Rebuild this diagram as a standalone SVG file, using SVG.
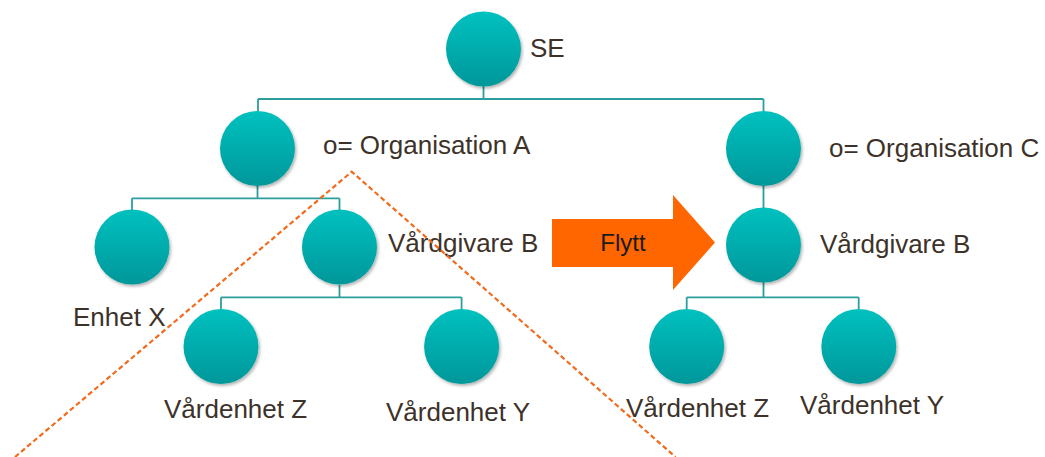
<svg xmlns="http://www.w3.org/2000/svg" width="1045" height="457" viewBox="0 0 1045 457">
<defs>
<linearGradient id="g" x1="0" y1="0" x2="0" y2="1">
<stop offset="0" stop-color="#04C1BF"/>
<stop offset="1" stop-color="#06979A"/>
</linearGradient>
<filter id="sh" x="-20%" y="-20%" width="150%" height="150%">
<feDropShadow dx="1.5" dy="2" stdDeviation="1.6" flood-color="#000" flood-opacity="0.3"/>
</filter>
</defs>
<style>
.n{fill:url(#g);filter:url(#sh)}
.c{fill:none;stroke:#2C9E9E;stroke-width:1.8}
.t{font-family:"Liberation Sans",Arial,sans-serif;font-size:26px;fill:#3D3229}
.d{fill:none;stroke:#F26A1B;stroke-width:2.2;stroke-dasharray:5,3}
</style>
<rect width="1045" height="457" fill="#fff"/>
<g id="connectors">
<path class="c" d="M483.5 86V99M258 99H763.5M258 99V111M763.5 99V111"/>
<path class="c" d="M257.5 186V198.3M132 198.3H339.5M132 198.3V210M339.5 198.3V210"/>
<path class="c" d="M339.5 285V297.3M221 297.3H461.6M221 297.3V309M461.6 297.3V309"/>
<path class="c" d="M763.5 186V208"/>
<path class="c" d="M763.5 282V297.3M686.7 297.3H858.7M686.7 297.3V309M858.7 297.3V309"/>
</g>
<g id="SE"><circle class="n" cx="483.5" cy="49" r="37.5"/><text class="t" x="530" y="57">SE</text></g>
<g id="orgA"><circle class="n" cx="257.5" cy="148.5" r="37.5"/><text class="t" x="323" y="154">o= Organisation A</text></g>
<g id="enhetX"><circle class="n" cx="132" cy="247" r="37.5"/><text class="t" x="73" y="326">Enhet X</text></g>
<g id="vardgivareB-left"><circle class="n" cx="339.5" cy="247" r="37.5"/><text class="t" x="388" y="252">Vårdgivare B</text></g>
<g id="vardenhetZ-left"><circle class="n" cx="221" cy="346.5" r="37.5"/><text class="t" x="164" y="418">Vårdenhet Z</text></g>
<g id="vardenhetY-left"><circle class="n" cx="461.6" cy="346.5" r="37.5"/><text class="t" x="386" y="420.5">Vårdenhet Y</text></g>
<g id="orgC"><circle class="n" cx="763.5" cy="148.5" r="37.5"/><text class="t" x="829" y="157">o= Organisation C</text></g>
<g id="vardgivareB-right"><circle class="n" cx="763.5" cy="245" r="37.5"/><text class="t" x="820" y="253">Vårdgivare B</text></g>
<g id="vardenhetZ-right"><circle class="n" cx="686.7" cy="346.5" r="37.5"/><text class="t" x="626" y="416.7">Vårdenhet Z</text></g>
<g id="vardenhetY-right"><circle class="n" cx="858.8" cy="346.5" r="37.5"/><text class="t" x="800" y="414.3">Vårdenhet Y</text></g>
<g id="flytt">
<path d="M552 219H673V195L715 242.5L673 290V267H552Z" fill="#FF6600"/>
<text x="623" y="251" text-anchor="middle" font-family="'Liberation Sans',Arial,sans-serif" font-size="24" fill="#1A1A1A">Flytt</text>
</g>
<g id="dashed"><path class="d" d="M15 457L351.7 171.7L675.5 457"/></g>
</svg>
